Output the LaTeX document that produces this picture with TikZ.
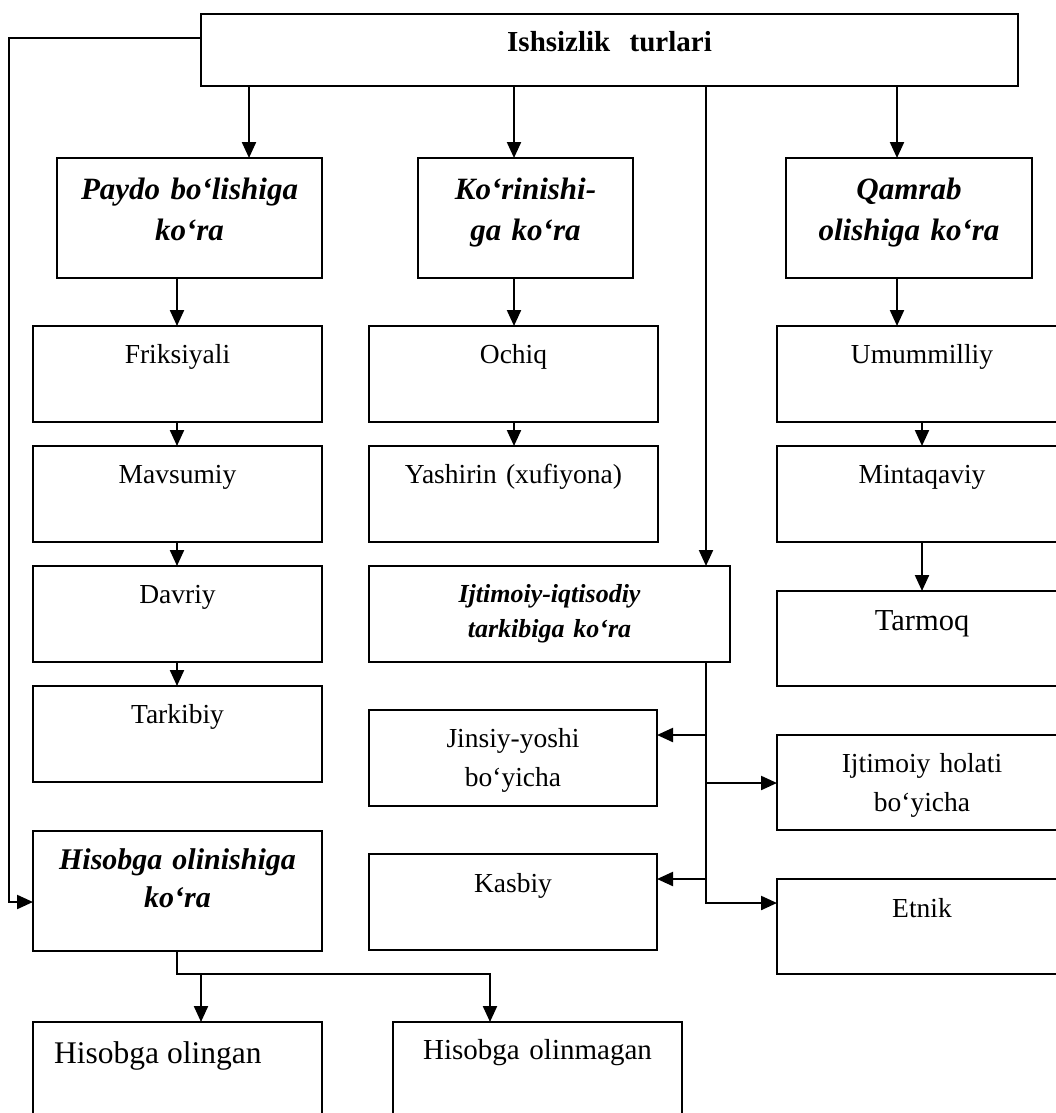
\documentclass[tikz,border=0pt]{standalone}
\usepackage{fontspec}
\setmainfont{Liberation Serif}
\usetikzlibrary{arrows.meta}

\begin{document}
\begin{tikzpicture}[x=1pt,y=-1pt,
  box/.style={draw,line width=1.8pt,rectangle,inner sep=0pt,outer sep=0pt,anchor=north west},
  txt/.style={anchor=base,inner sep=0pt,align=center,text width=280pt},
  nf/.style={font=\fontsize{27.5}{39}\selectfont},
  hf/.style={font=\fontsize{31}{41}\selectfont\bfseries\itshape},
  sf/.style={font=\fontsize{26}{35}\selectfont\bfseries\itshape},
  arr/.style={line width=2.2pt,-{Triangle[length=16pt,width=14pt]}},
]
\useasboundingbox (0,0) rectangle (1056,1113);
\clip (0,0) rectangle (1056,1113);

% ---------- boxes ----------
\node[box,minimum width=817pt,minimum height=72pt]  (top)    at (201,14)  {};
\node[box,minimum width=265pt,minimum height=120pt] (paydo)  at (57,158)  {};
\node[box,minimum width=215pt,minimum height=120pt] (korin)  at (418,158) {};
\node[box,minimum width=246pt,minimum height=120pt] (qamrab) at (786,158) {};

\node[box,minimum width=289pt,minimum height=96pt] (frik) at (33,326) {};
\node[box,minimum width=289pt,minimum height=96pt] (mavs) at (33,446) {};
\node[box,minimum width=289pt,minimum height=96pt] (davr) at (33,566) {};
\node[box,minimum width=289pt,minimum height=96pt] (tark) at (33,686) {};

\node[box,minimum width=289pt,minimum height=96pt] (ochiq) at (369,326) {};
\node[box,minimum width=289pt,minimum height=96pt] (yash)  at (369,446) {};
\node[box,minimum width=361pt,minimum height=96pt] (ijt)   at (369,566) {};

\node[box,minimum width=290pt,minimum height=96pt] (umum) at (777,326) {};
\node[box,minimum width=290pt,minimum height=96pt] (mint) at (777,446) {};
\node[box,minimum width=290pt,minimum height=95pt] (tarm) at (777,591) {};

\node[box,minimum width=288pt,minimum height=96pt] (jins) at (369,710) {};
\node[box,minimum width=288pt,minimum height=96pt] (kasb) at (369,854) {};
\node[box,minimum width=290pt,minimum height=95pt] (ijth) at (777,735) {};
\node[box,minimum width=290pt,minimum height=95pt] (etn)  at (777,879) {};

\node[box,minimum width=289pt,minimum height=120pt] (hisob) at (33,831)  {};
\node[box,minimum width=289pt,minimum height=120pt] (hol)   at (33,1022) {};
\node[box,minimum width=289pt,minimum height=120pt] (holm)  at (393,1022) {};

% ---------- texts ----------
\node[txt,font=\fontsize{29}{35}\selectfont\bfseries] (t-top) at ([yshift=-38pt]top.north) {Ishsizlik\ \ turlari};
\node[txt,hf] (t-paydo)  at ([yshift=-41pt]paydo.north)  {Paydo bo‘lishiga\\ko‘ra};
\node[txt,hf] (t-korin)  at ([yshift=-41pt]korin.north)  {Ko‘rinishi-\\ga ko‘ra};
\node[txt,hf] (t-qamrab) at ([yshift=-41pt]qamrab.north) {Qamrab\\olishiga ko‘ra};

\node[txt,nf] (t-frik) at ([yshift=-37pt]frik.north) {Friksiyali};
\node[txt,nf] (t-mavs) at ([yshift=-37pt]mavs.north) {Mavsumiy};
\node[txt,nf] (t-davr) at ([yshift=-37pt]davr.north) {Davriy};
\node[txt,nf] (t-tark) at ([yshift=-37pt]tark.north) {Tarkibiy};

\node[txt,nf] (t-ochiq) at ([yshift=-37pt]ochiq.north) {Ochiq};
\node[txt,nf] (t-yash)  at ([yshift=-37pt]yash.north)  {Yashirin (xufiyona)};
\node[txt,sf] (t-ijt)   at ([yshift=-36pt]ijt.north)   {Ijtimoiy-iqtisodiy\\tarkibiga ko‘ra};

\node[txt,nf] (t-umum) at ([yshift=-37pt]umum.north) {Umummilliy};
\node[txt,nf] (t-mint) at ([yshift=-37pt]mint.north) {Mintaqaviy};
\node[txt,font=\fontsize{30.5}{38}\selectfont] (t-tarm) at ([yshift=-39pt]tarm.north) {Tarmoq};

\node[txt,nf] (t-jins) at ([yshift=-37pt]jins.north) {Jinsiy-yoshi\\bo‘yicha};
\node[txt,nf] (t-kasb) at ([yshift=-38pt]kasb.north) {Kasbiy};
\node[txt,nf] (t-ijth) at ([yshift=-37pt]ijth.north) {Ijtimoiy holati\\bo‘yicha};
\node[txt,nf] (t-etn)  at ([yshift=-38pt]etn.north)  {Etnik};

\node[txt,font=\fontsize{30}{38}\selectfont\bfseries\itshape] (t-hisob) at ([yshift=-38pt]hisob.north) {Hisobga olinishiga\\ko‘ra};
\node[anchor=base west,inner sep=0pt,font=\fontsize{31.5}{38}\selectfont] (t-hol) at ([xshift=21pt,yshift=-41pt]hol.north west) {Hisobga olingan};
\node[txt,font=\fontsize{29}{36}\selectfont] (t-holm) at ([yshift=-37pt]holm.north) {Hisobga olinmagan};

% ---------- connector guides ----------
\coordinate (xP)  at (249,0);
\coordinate (xK)  at (514,0);
\coordinate (xT)  at (706,0);
\coordinate (xQ)  at (897,0);
\coordinate (xC1) at (177,0);
\coordinate (xC3) at (922,0);
\coordinate (lft) at (9,38);
\coordinate (hin) at (33,902);
\coordinate (yb1) at (0,735);
\coordinate (yb2) at (0,783);
\coordinate (yb3) at (0,879);
\coordinate (yb4) at (0,903);
\coordinate (hb)  at (177,974);
\coordinate (xH1) at (201,0);
\coordinate (xH2) at (490,0);

% ---------- connectors ----------
\draw[arr] (top.south -| xP) -- (paydo.north -| xP);
\draw[arr] (top.south -| xK) -- (korin.north -| xK);
\draw[arr] (top.south -| xT) -- (ijt.north -| xT);
\draw[arr] (top.south -| xQ) -- (qamrab.north -| xQ);

\draw[arr] (top.west |- lft) -- (lft) |- (hin);

\draw[arr] (paydo.south -| xC1) -- (frik.north -| xC1);
\draw[arr] (frik.south -| xC1) -- (mavs.north -| xC1);
\draw[arr] (mavs.south -| xC1) -- (davr.north -| xC1);
\draw[arr] (davr.south -| xC1) -- (tark.north -| xC1);

\draw[arr] (korin.south -| xK) -- (ochiq.north -| xK);
\draw[arr] (ochiq.south -| xK) -- (yash.north -| xK);

\draw[arr] (qamrab.south -| xQ) -- (umum.north -| xQ);
\draw[arr] (umum.south -| xC3) -- (mint.north -| xC3);
\draw[arr] (mint.south -| xC3) -- (tarm.north -| xC3);

\draw[arr] (ijt.south -| xT) |- (etn.west |- yb4);
\draw[arr] (xT |- yb1) -- (jins.east |- yb1);
\draw[arr] (xT |- yb2) -- (ijth.west |- yb2);
\draw[arr] (xT |- yb3) -- (kasb.east |- yb3);

\draw[arr] (hisob.south -| hb) |- (xH2 |- hb) -- (holm.north -| xH2);
\draw[arr] (xH1 |- hb) -- (hol.north -| xH1);
\end{tikzpicture}
\end{document}
